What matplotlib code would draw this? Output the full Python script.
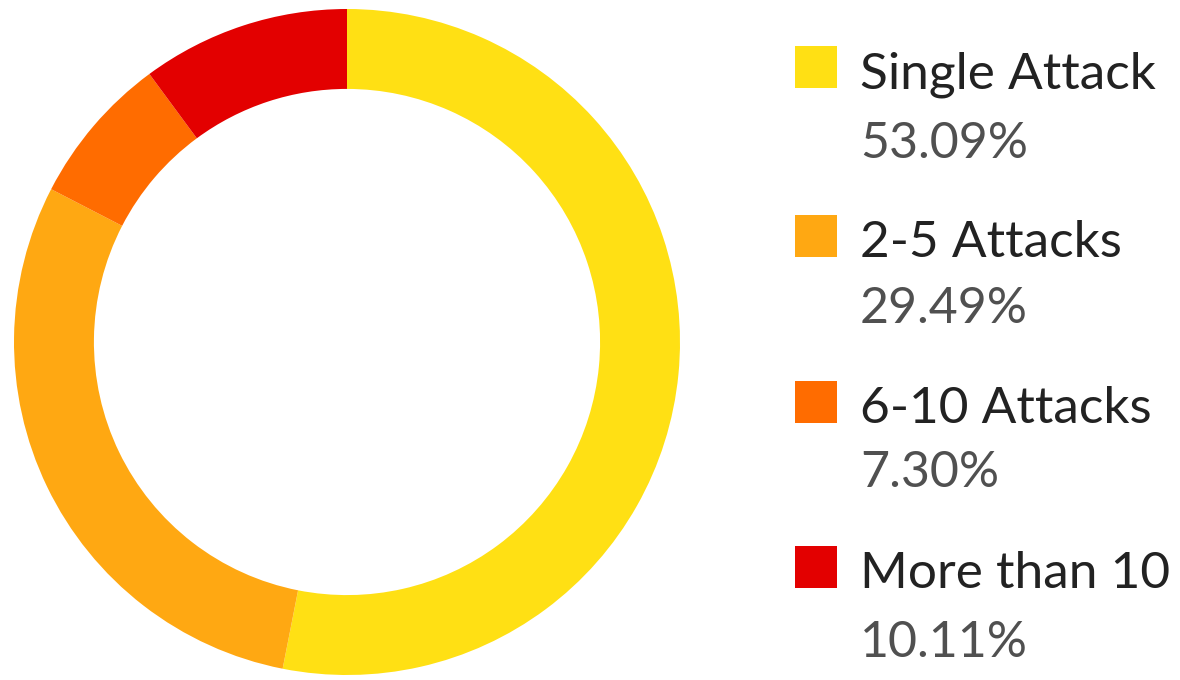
import matplotlib.pyplot as plt
from matplotlib.patches import Rectangle

# data
labels = ["Single Attack", "2-5 Attacks", "6-10 Attacks", "More than 10"]
shares = [53.09, 29.49, 7.30, 10.11]
colors = ["#FFE014", "#FFA812", "#FF6C00", "#E30000"]

W, H = 1180, 680
fig = plt.figure(figsize=(W / 100, H / 100), dpi=100)
fig.patch.set_facecolor("white")

# donut, centre ~ (347, 342) px from top-left, outer radius ~333 px
cx, cy, r = 347, 342, 333
ax = fig.add_axes([(cx - r) / W, (H - cy - r) / H, 2 * r / W, 2 * r / H])
ax.pie(shares, colors=colors, startangle=90, counterclock=False,
       wedgeprops=dict(width=0.24, linewidth=0, antialiased=True))
ax.set_xlim(-1, 1)
ax.set_ylim(-1, 1)
ax.set_aspect("equal")
ax.axis("off")

# legend drawn by hand
label_base = [88, 257, 423, 588]
pct_base = [158, 323, 487, 657]
for i, (lab, val, col) in enumerate(zip(labels, shares, colors)):
    sq = 42
    fig.patches.append(Rectangle((795 / W, (H - label_base[i]) / H), sq / W, sq / H,
                                 transform=fig.transFigure, facecolor=col,
                                 edgecolor="none"))
    fig.text(860 / W, (H - label_base[i]) / H, lab, family="Lato", fontsize=37,
             color="#222222", va="baseline", ha="left")
    fig.text(860 / W, (H - pct_base[i]) / H, f"{val:.2f}%", family="Lato",
             fontsize=36, color="#505050",
             va="baseline", ha="left")

fig.savefig("out.png", dpi=100, facecolor="white")
